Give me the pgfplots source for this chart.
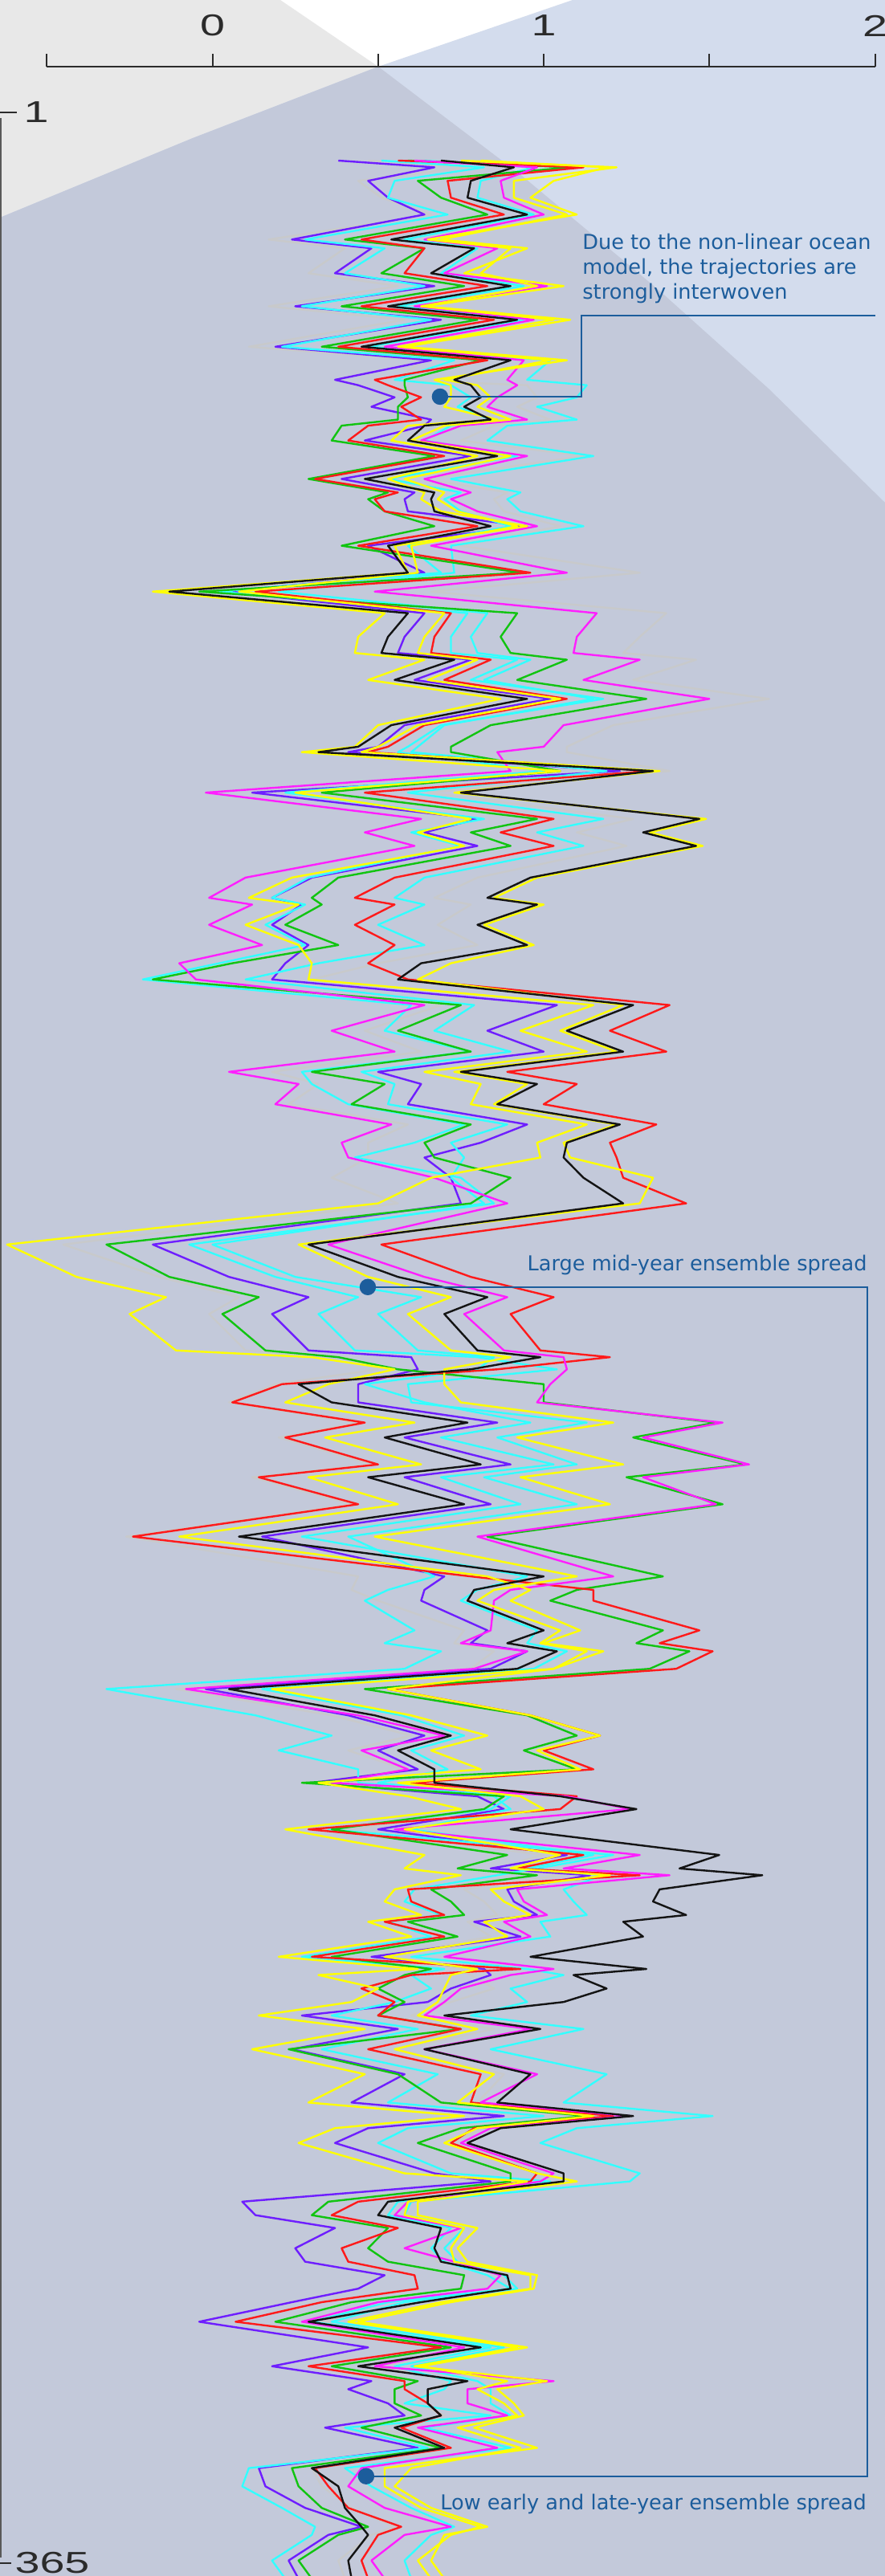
\documentclass[border=0pt]{standalone}
\usepackage{fontspec}
\setmainfont{DejaVu Sans}
\newfontfamily\tickfont{Liberation Sans}
\usepackage{pgfplots}
\usepackage{pgfplotstable}
\pgfplotsset{compat=1.18}

\definecolor{cP}{HTML}{6E1EFF}
\definecolor{cC}{HTML}{33FFFF}
\definecolor{cG}{HTML}{11C411}
\definecolor{cR}{HTML}{FF1A1A}
\definecolor{cK}{HTML}{141414}
\definecolor{cM}{HTML}{FF1FFF}
\definecolor{cY}{HTML}{FFFF00}
\definecolor{cGr}{HTML}{C9C9C9}
\definecolor{annot}{HTML}{1C5D9C}
\definecolor{bgGrey}{HTML}{E8E8E8}
\definecolor{bgBlue}{HTML}{D3DCED}
\definecolor{bgOver}{HTML}{C3C9DA}
\definecolor{axisc}{HTML}{2B2B2B}

% day, then one column per ensemble member
\pgfplotstableread{
d P C C2 G R K M Y Y2 Gr
1 0.38 0.51 0.64 0.59 0.56 0.69 0.61 0.75 0.81 0.47
2 0.67 0.82 0.97 1.08 1.12 0.91 0.98 1.22 1.19 0.77
4 0.47 0.55 0.81 0.62 0.71 0.78 0.87 0.91 1.03 0.44
6.5 0.53 0.53 0.80 0.69 0.72 0.77 0.88 0.91 0.96 0.51
9 0.64 0.71 0.97 0.83 0.88 0.95 1.00 1.07 1.10 0.66
12.7 0.24 0.28 0.58 0.40 0.45 0.54 0.64 0.69 0.65 0.17
14 0.48 0.52 0.80 0.64 0.64 0.79 0.86 0.95 0.90 0.40
17.7 0.37 0.40 0.69 0.51 0.58 0.66 0.70 0.76 0.81 0.29
19.6 0.67 0.64 0.94 0.76 0.83 0.90 1.01 1.06 0.98 0.56
22.6 0.25 0.27 0.56 0.39 0.45 0.53 0.61 0.64 0.63 0.17
24.6 0.69 0.66 0.94 0.80 0.85 0.92 0.97 1.08 1.03 0.58
28.6 0.19 0.21 0.47 0.33 0.38 0.45 0.52 0.58 0.56 0.11
30.6 0.66 0.73 1.02 0.81 0.83 0.90 0.94 1.07 1.02 0.64
33.5 0.37 0.55 0.95 0.58 0.49 0.73 0.89 0.67 0.70 0.55
34.3 0.44 0.72 1.13 0.58 0.53 0.78 0.92 0.72 0.80 0.95
36.1 0.55 0.78 1.10 0.59 0.63 0.81 0.86 0.72 0.84 0.98
37.5 0.48 0.74 0.98 0.56 0.57 0.76 0.83 0.70 0.80 0.92
39.4 0.66 0.84 1.10 0.56 0.63 0.84 0.95 0.86 0.90 1.02
40.3 0.64 0.72 0.89 0.39 0.47 0.64 0.75 0.59 0.70 0.85
42.5 0.46 0.64 0.83 0.36 0.41 0.59 0.63 0.54 0.60 0.75
44.8 0.78 0.92 1.15 0.67 0.70 0.86 0.95 0.80 0.90 1.12
48.2 0.39 0.53 0.72 0.29 0.31 0.46 0.64 0.53 0.58 0.64
50.2 0.61 0.75 0.93 0.53 0.56 0.67 0.78 0.64 0.70 0.89
51.2 0.58 0.70 0.89 0.47 0.49 0.66 0.72 0.63 0.68 0.85
53.0 0.59 0.75 0.93 0.52 0.52 0.67 0.80 0.69 0.74 0.88
55.2 0.95 0.90 1.12 0.67 0.80 0.84 0.98 0.95 0.92 1.05
58.1 0.47 0.59 0.72 0.39 0.44 0.53 0.66 0.55 0.60 0.75
62.1 0.64 0.69 0.73 0.93 0.96 0.59 1.07 0.59 0.62 1.29
64.9 0.04 0.02 0.20 -0.04 0.13 -0.13 0.49 -0.18 0.08 0.66
68.1 0.64 0.77 0.83 0.92 0.72 0.59 1.16 0.52 0.70 1.37
71.6 0.58 0.72 0.78 0.87 0.67 0.53 1.10 0.44 0.64 1.29
74.0 0.56 0.72 0.80 0.90 0.66 0.51 1.09 0.43 0.62 1.24
75.0 0.78 0.92 0.96 1.07 0.84 0.73 1.29 0.64 0.80 1.46
78.0 0.61 0.78 0.82 0.92 0.70 0.55 1.12 0.47 0.65 1.27
80.8 1.02 1.18 1.15 1.31 1.07 0.95 1.50 0.87 1.05 1.68
84.7 0.58 0.69 0.70 0.84 0.64 0.54 1.06 0.50 0.62 1.21
87.9 0.50 0.59 0.62 0.72 0.53 0.44 1.00 0.43 0.50 1.07
88.7 0.41 0.56 0.60 0.72 0.47 0.32 0.86 0.27 0.45 1.07
91.5 1.23 1.00 1.19 1.05 1.32 1.33 0.90 1.05 1.35 1.38
94.7 0.12 0.22 0.59 0.33 0.46 0.75 -0.02 0.25 0.73 0.65
98.6 0.80 0.82 1.18 0.98 1.03 1.47 0.63 0.78 1.49 1.27
100.6 0.64 0.60 0.98 0.78 0.87 1.30 0.46 0.62 1.32 1.10
102.6 0.80 0.75 1.12 0.90 1.03 1.46 0.61 0.76 1.48 1.25
107.3 0.30 0.29 0.64 0.38 0.55 0.96 0.10 0.24 0.98 0.80
110.3 0.18 0.18 0.55 0.30 0.43 0.83 -0.01 0.11 0.85 0.67
111.3 0.27 0.28 0.64 0.33 0.55 0.98 0.12 0.26 1.00 0.78
114.3 0.18 0.16 0.50 0.22 0.43 0.80 -0.01 0.10 0.82 0.68
117.3 0.29 0.28 0.64 0.38 0.55 0.95 0.15 0.26 0.97 0.80
120.0 0.22 0.02 0.32 0.06 0.47 0.63 -0.10 0.30 0.72 0.50
122.4 0.18 -0.21 0.10 -0.18 0.59 0.56 -0.05 0.29 0.62 0.30
126.2 1.04 0.60 0.79 0.75 1.38 1.27 0.64 1.15 1.24 0.69
130.0 0.83 0.52 0.67 0.56 1.20 1.07 0.36 0.93 1.05 0.46
133.1 1.00 0.78 0.90 0.78 1.37 1.24 0.55 1.13 1.22 0.63
136.1 0.50 0.27 0.45 0.30 0.89 0.75 0.05 0.64 0.73 0.18
137.9 0.63 0.30 0.55 0.52 1.10 0.98 0.26 0.81 0.95 0.32
140.9 0.59 0.41 0.53 0.42 1.00 0.86 0.19 0.78 0.85 0.23
143.9 0.95 0.76 0.89 0.78 1.34 1.23 0.54 1.13 1.22 0.59
146.6 0.81 0.61 0.72 0.64 1.20 1.07 0.39 0.98 1.06 0.47
148.8 0.64 0.43 0.76 0.67 1.22 1.06 0.41 0.99 1.08 0.47
151.8 0.72 0.75 0.72 0.90 1.24 1.12 0.67 0.66 1.33 0.36
155.6 0.75 0.85 0.82 0.78 1.43 1.24 0.89 0.50 1.29 0.56
161.7 -0.18 -0.07 0.00 -0.32 0.51 0.29 0.35 -0.62 0.26 -0.45
166.5 0.05 0.19 0.25 -0.13 0.78 0.56 0.64 -0.41 0.47 -0.16
169.5 0.29 0.44 0.63 0.14 1.03 0.83 0.89 -0.14 0.72 0.08
172.0 0.18 0.32 0.50 0.03 0.90 0.70 0.76 -0.25 0.59 -0.01
177.4 0.29 0.43 0.62 0.16 0.99 0.80 0.88 -0.11 0.72 0.10
178.4 0.60 0.80 0.85 0.38 1.20 0.99 1.06 0.30 0.90 0.40
180.2 0.62 1.04 0.80 0.56 0.86 0.78 1.07 0.55 0.70 0.50
182.4 0.44 0.59 0.46 1.00 0.21 0.26 1.02 0.35 0.70 0.19
185.1 0.44 0.60 0.64 1.00 0.06 0.36 0.98 0.22 0.75 0.05
188.1 0.86 1.13 0.96 1.52 0.46 0.77 1.54 0.61 1.21 0.44
190.3 0.58 0.86 0.69 1.27 0.22 0.52 1.30 0.34 0.92 0.20
194.3 0.90 1.10 1.03 1.61 0.50 0.81 1.62 0.63 1.24 0.48
196.2 0.58 0.82 0.69 1.25 0.14 0.47 1.30 0.29 0.93 0.12
200.2 0.84 1.10 0.93 1.54 0.44 0.76 1.52 0.56 1.20 0.42
205.0 0.15 0.41 0.27 0.83 -0.24 0.08 0.80 -0.10 0.49 -0.26
210.9 0.70 0.67 0.95 1.36 0.78 1.00 1.21 0.83 1.10 0.44
212.9 0.64 0.53 0.80 1.10 1.15 0.79 0.90 0.96 0.85 0.42
214.5 0.63 0.46 0.75 1.02 1.15 0.77 0.85 0.90 0.80 0.50
218.9 0.83 0.61 0.98 1.36 1.47 1.00 0.84 1.11 1.05 0.76
220.8 0.78 0.52 0.95 1.28 1.35 0.89 0.75 1.00 0.99 0.73
222.0 0.95 0.69 1.07 1.44 1.51 1.04 0.95 1.18 1.13 0.85
224.6 0.84 0.58 0.97 1.32 1.40 0.92 0.79 1.03 1.03 0.78
227.6 -0.02 -0.32 0.15 0.46 0.53 0.05 -0.08 0.18 0.53 -0.11
231.5 0.41 0.13 0.57 0.95 0.96 0.49 0.44 0.60 0.96 0.36
234.5 0.64 0.36 0.76 1.10 1.17 0.72 0.70 0.83 1.17 0.60
236.7 0.50 0.20 0.60 0.94 1.00 0.56 0.45 0.66 0.98 0.41
239.5 0.62 0.44 0.71 1.10 1.15 0.67 0.59 0.81 1.11 0.58
241.5 0.30 0.44 0.50 0.27 0.60 0.67 0.36 0.32 0.56 0.30
243.5 0.80 0.90 0.85 0.88 1.10 1.05 1.07 0.59 0.93 0.80
245.4 0.88 0.84 0.90 0.82 1.05 1.28 1.26 0.75 1.00 0.90
248.4 0.50 0.35 0.60 0.36 0.29 0.90 0.55 0.22 0.58 0.40
252.2 1.07 1.21 1.15 0.89 1.12 1.53 1.29 0.64 1.05 1.00
254.2 0.84 0.98 0.95 0.74 0.92 1.41 1.06 0.58 0.90 0.85
255.2 1.14 0.86 1.18 0.98 1.29 1.66 1.38 0.75 1.20 1.05
257.3 0.89 0.61 1.06 0.66 0.59 1.35 0.92 0.55 0.84 0.76
259.1 0.91 0.58 1.09 0.72 0.60 1.33 0.94 0.52 0.88 0.82
261.1 0.98 0.69 1.13 0.76 0.70 1.43 1.01 0.63 0.96 0.86
262.1 0.79 0.53 0.99 0.59 0.52 1.24 0.88 0.47 0.82 0.77
264.3 0.93 0.66 1.02 0.74 0.70 1.30 0.96 0.60 0.89 0.84
267.3 0.48 0.27 0.60 0.36 0.30 0.96 0.70 0.20 0.52 0.50
269.1 0.82 0.70 0.95 0.66 0.93 1.31 1.03 0.62 0.80 0.75
270.0 0.84 0.60 1.06 0.58 0.60 1.09 0.90 0.32 0.72 0.78
272.0 0.72 0.66 0.90 0.50 0.45 1.19 0.75 0.50 0.70 0.85
274.0 0.65 0.55 0.95 0.58 0.55 1.06 0.70 0.42 0.68 0.72
276.0 0.27 0.36 0.78 0.50 0.50 0.70 0.64 0.14 0.62 0.60
278.0 0.56 0.62 1.12 0.75 0.75 0.99 0.96 0.46 0.80 0.85
281.0 0.24 0.33 0.84 0.23 0.47 0.64 0.64 0.12 0.55 0.56
284.7 0.58 0.68 1.19 0.56 0.81 0.96 0.98 0.46 0.85 0.88
288.9 0.42 0.53 1.06 0.69 0.78 0.86 0.81 0.29 0.74 0.80
290.9 0.88 1.00 1.51 1.13 1.21 1.27 1.26 0.76 1.15 1.20
292.7 0.47 0.59 1.10 0.75 0.79 0.87 0.84 0.37 0.80 0.82
294.9 0.37 0.50 0.99 0.62 0.72 0.77 0.75 0.26 0.70 0.72
299.4 0.67 0.72 1.29 0.90 0.98 1.06 1.03 0.58 0.98 1.00
300.6 0.84 1.02 1.26 0.90 0.96 1.06 0.99 0.95 1.10 1.02
303.6 0.09 0.56 0.60 0.35 0.44 0.53 0.59 0.59 0.62 0.55
305.6 0.13 0.53 0.58 0.30 0.36 0.50 0.55 0.58 0.62 0.52
307.5 0.37 0.72 0.76 0.53 0.56 0.69 0.75 0.76 0.80 0.70
310.5 0.25 0.66 0.70 0.47 0.39 0.67 0.58 0.72 0.74 0.65
312.5 0.28 0.70 0.74 0.53 0.41 0.69 0.73 0.73 0.77 0.68
314.5 0.52 0.83 0.88 0.76 0.61 0.89 0.87 0.96 0.98 0.90
316.5 0.44 0.90 0.92 0.75 0.62 0.90 0.83 0.96 0.97 0.90
318.5 0.24 0.53 0.58 0.42 0.33 0.63 0.50 0.69 0.72 0.60
321.4 -0.04 0.30 0.36 0.19 0.07 0.29 0.27 0.41 0.44 0.33
325.2 0.47 0.84 0.88 0.72 0.69 0.81 0.76 0.92 0.95 0.85
328.0 0.18 0.55 0.60 0.36 0.29 0.44 0.49 0.61 0.63 0.50
330.2 0.48 0.72 0.80 0.62 0.58 0.77 1.03 1.01 0.89 0.72
331.4 0.41 0.70 0.84 0.55 0.58 0.65 0.77 0.86 0.80 0.66
333.5 0.53 0.58 0.84 0.55 0.65 0.65 0.77 0.91 0.88 0.62
335.3 0.58 0.84 0.90 0.63 0.69 0.69 0.89 0.94 0.92 0.70
337.1 0.34 0.40 0.64 0.45 0.57 0.55 0.62 0.79 0.74 0.50
340.1 0.62 0.65 0.90 0.69 0.72 0.70 0.86 0.98 0.93 0.72
343.1 0.14 0.11 0.40 0.24 0.31 0.30 0.45 0.52 0.60 0.30
345.8 0.16 0.09 0.48 0.26 0.35 0.38 0.41 0.52 0.55 0.33
349.0 0.28 0.21 0.60 0.33 0.41 0.40 0.52 0.63 0.66 0.42
351.8 0.45 0.31 0.73 0.47 0.57 0.45 0.72 0.81 0.83 0.55
353.0 0.35 0.30 0.66 0.38 0.50 0.47 0.58 0.72 0.70 0.48
356.8 0.23 0.18 0.58 0.26 0.45 0.41 0.48 0.62 0.66 0.38
359.5 0.26 0.22 0.60 0.30 0.47 0.42 0.52 0.66 0.70 0.40
362 0.20 0.15 0.55 0.25 0.42 0.38 0.46 0.60 0.64 0.35
}\ensemble

\tikzset{
  px/.style={x=0.5pt, y=-0.5pt, yshift=1604pt},
  note/.style={inner sep=0pt, text=annot, font=\fontsize{12.8}{15.5}\selectfont},
  ticklab/.style={inner sep=0pt, xscale=1.48, text=axisc, font=\tickfont\fontsize{18.8}{20}\selectfont},
}

\begin{document}
\begin{tikzpicture}
% background wedges (pixel frame, origin top left)
\begin{scope}[px]
  \fill[white] (0,0) rectangle (1102,3208);
  \fill[bgGrey] (0,0) -- (349,0) -- (471,83) -- (650,219) -- (820,361) -- (957,484) -- (1102,626)
    -- (1102,3208) -- (0,3208) -- cycle;
  \fill[bgBlue] (0,271) -- (240,172) -- (471,83) -- (713,0) -- (1102,0) -- (1102,3208) -- (0,3208) -- cycle;
  \fill[bgOver] (0,271) -- (240,172) -- (471,83) -- (650,219) -- (820,361) -- (957,484) -- (1102,626)
    -- (1102,3208) -- (0,3208) -- cycle;
\end{scope}

\begin{axis}[
  at={(0,0)}, anchor=south west,
  width=551pt, height=1604pt, scale only axis,
  xmin=-0.6412, xmax=2.0303,
  ymin=-22.81, ymax=359.10, y dir=reverse,
  hide axis, clip=true,
  every axis plot/.append style={no marks, line width=1.2pt, line join=round},
]
\addplot[cGr, opacity=0.85] table[x=Gr, y=d] {\ensemble};
\addplot[cP] table[x=P, y=d] {\ensemble};
\addplot[cC] table[x=C, y=d] {\ensemble};
\addplot[cC] table[x=C2, y=d] {\ensemble};
\addplot[cG] table[x=G, y=d] {\ensemble};
\addplot[cR] table[x=R, y=d] {\ensemble};
\addplot[cM] table[x=M, y=d] {\ensemble};
\addplot[cY] table[x=Y, y=d] {\ensemble};
\addplot[cY] table[x=Y2, y=d] {\ensemble};
\addplot[cK] table[x=K, y=d] {\ensemble};
% highlighted points of the callouts
\addplot[only marks, mark=*, mark size=4.5pt, mark options={draw=annot, fill=annot}]
  coordinates {(0.687,36.0) (0.469,168.0) (0.464,344.3)};
\end{axis}

% axes, ticks and callouts (pixel frame)
\begin{scope}[px]
  \draw[axisc, line width=1pt] (57.5,83) -- (1090,83);
  \foreach \t in {58.25,264.5,470.75,677,883.25,1089.5}
    \draw[axisc, line width=1pt] (\t,83) -- (\t,67);
  \node[ticklab] at (264.5,32) {0};
  \node[ticklab] at (677,32) {1};
  \node[ticklab] at (1089.5,32) {2};

  \draw[black!65, line width=1pt] (1,147) -- (1,3185);
  \draw[axisc, line width=1.2pt] (0,140) -- (21,140);
  \draw[axisc, line width=1.2pt] (0,3192) -- (14,3192);
  \node[ticklab, anchor=west] at (29,140) {1};
  \node[ticklab, anchor=west] at (18,3192) {365};

  \draw[annot, line width=1pt] (548,494) -- (724,494) -- (724,393) -- (1089.5,393);
  \draw[annot, line width=1pt] (458,1603) -- (1080,1603) -- (1080,3084) -- (456,3084);

  \node[note, anchor=base west] at (725,311) {Due to the non-linear ocean};
  \node[note, anchor=base west] at (725,342) {model, the trajectories are};
  \node[note, anchor=base west] at (725,373) {strongly interwoven};
  \node[note, anchor=base east] at (1080,1583) {Large mid-year ensemble spread};
  \node[note, anchor=base west] at (548,3125) {Low early and late-year ensemble spread};
\end{scope}

\pgfresetboundingbox
\useasboundingbox (0,0) rectangle (551pt,1604pt);
\end{tikzpicture}
\end{document}
